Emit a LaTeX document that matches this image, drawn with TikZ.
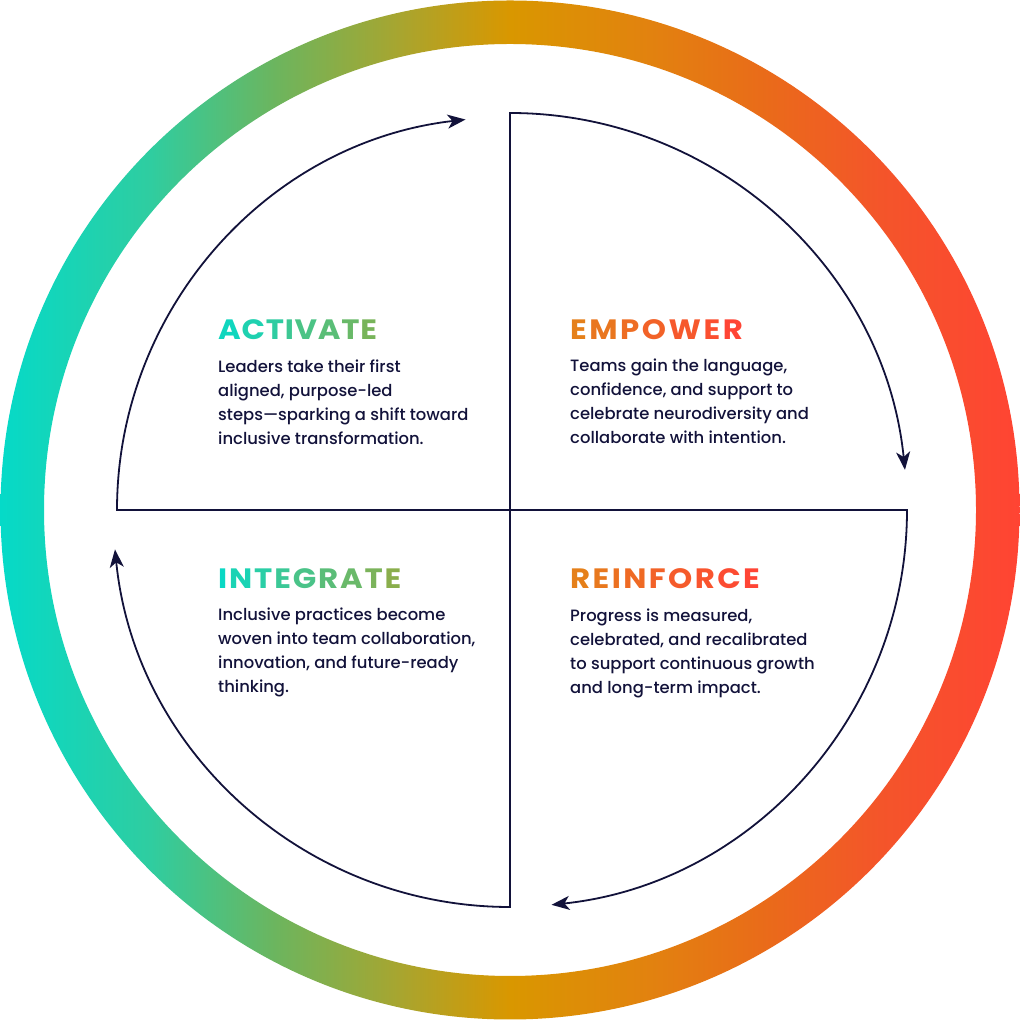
\documentclass[tikz,border=0pt]{standalone}
\usepackage{fontspec}
\usepackage{graphicx}
\setmainfont{Poppins}
\newfontfamily\bodyfont{Poppins Medium}
\usetikzlibrary{arrows.meta}
\definecolor{navy}{HTML}{12123A}
\definecolor{c0}{HTML}{05DAC8}
\definecolor{c1}{HTML}{2FCDA0}
\definecolor{c2}{HTML}{6CB55E}
\definecolor{c3}{HTML}{A8A52F}
\definecolor{c4}{HTML}{D99700}
\definecolor{c5}{HTML}{E2820F}
\definecolor{c6}{HTML}{E96C19}
\definecolor{c7}{HTML}{F4552A}
\definecolor{c8}{HTML}{FF4433}
\definecolor{actL}{HTML}{10D6BE}
\definecolor{actR}{HTML}{78B45A}
\definecolor{intL}{HTML}{0AD8C4}
\definecolor{intR}{HTML}{8AAE4C}
\definecolor{empL}{HTML}{E5801A}
\definecolor{empR}{HTML}{FF4535}
\pgfdeclarehorizontalshading{ringshade}{100bp}{color(0bp)=(c0); color(25bp)=(c0); color(32.35bp)=(c1); color(38.48bp)=(c2); color(44.6bp)=(c3); color(50bp)=(c4); color(56.86bp)=(c5); color(62.25bp)=(c6); color(68.14bp)=(c7); color(75bp)=(c8); color(100bp)=(c8)}
\newlength\hk
\newcommand\gcl[4]{\textcolor{#1!#3!#2}{#4}\kern\hk}
\newcommand\headtext[2]{\setlength\hk{#1}\scalebox{1.1}[1]{#2}}
\tikzset{
  flow/.style={draw=navy, line width=1.8pt, line join=miter, -{Stealth[length=18pt,width=14pt,inset=5pt]}},
  head/.style={anchor=base west, inner sep=0pt, font=\bfseries\fontsize{28}{30}\selectfont},
  body/.style={anchor=base west, inner sep=0pt, text=navy, font=\bodyfont\fontsize{16.4}{23.8}\selectfont},
}
\begin{document}
\begin{tikzpicture}[x=1pt,y=1pt]
\useasboundingbox (0,0) rectangle (1020,1020);
\coordinate (c) at (510,510);
\shade[shading=ringshade, even odd rule] (c) circle[radius=509.5] (c) circle[radius=466];
% quadrants
\coordinate (l) at (117,510);
\coordinate (t) at (510,907);
\coordinate (r) at (907,510);
\coordinate (b) at (510,113);
\draw[flow] (c) -- (l) arc[start angle=180, end angle=96.5, radius=393];
\draw[flow] (c) -- (t) arc[start angle=90, end angle=5.8, radius=397];
\draw[flow] (c) -- (r) arc[start angle=0, end angle=-84, radius=397];
\draw[flow] (c) -- (b) arc[start angle=-90, end angle=-174.3, radius=397];
% headings
\node[head] (hA) at (218,680) {\headtext{0.7pt}{\gcl{actL}{actR}{100}{A}\gcl{actL}{actR}{86}{C}\gcl{actL}{actR}{71}{T}\gcl{actL}{actR}{57}{I}\gcl{actL}{actR}{43}{V}\gcl{actL}{actR}{29}{A}\gcl{actL}{actR}{14}{T}\gcl{actL}{actR}{0}{E}}};
\node[head] (hE) at (570,680) {\headtext{2.3pt}{\gcl{empL}{empR}{100}{E}\gcl{empL}{empR}{83}{M}\gcl{empL}{empR}{67}{P}\gcl{empL}{empR}{50}{O}\gcl{empL}{empR}{33}{W}\gcl{empL}{empR}{17}{E}\gcl{empL}{empR}{0}{R}}};
\node[head] (hI) at (218,431) {\headtext{1.7pt}{\gcl{intL}{intR}{100}{I}\gcl{intL}{intR}{87}{N}\gcl{intL}{intR}{75}{T}\gcl{intL}{intR}{62}{E}\gcl{intL}{intR}{50}{G}\gcl{intL}{intR}{37}{R}\gcl{intL}{intR}{25}{A}\gcl{intL}{intR}{12}{T}\gcl{intL}{intR}{0}{E}}};
\node[head] (hR) at (570,431) {\headtext{2.2pt}{\gcl{empL}{empR}{100}{R}\gcl{empL}{empR}{87}{E}\gcl{empL}{empR}{75}{I}\gcl{empL}{empR}{62}{N}\gcl{empL}{empR}{50}{F}\gcl{empL}{empR}{37}{O}\gcl{empL}{empR}{25}{R}\gcl{empL}{empR}{12}{C}\gcl{empL}{empR}{0}{E}}};
% bodies
\node[body] (bA) at (218,647) {\parbox[t]{320pt}{\raggedright Leaders take their first\\aligned, purpose-led\\steps—sparking a shift toward\\inclusive transformation.}};
\node[body] (bE) at (570,648) {\parbox[t]{320pt}{\raggedright Teams gain the language,\\confidence, and support to\\celebrate neurodiversity and\\collaborate with intention.}};
\node[body] (bI) at (218,399) {\parbox[t]{320pt}{\raggedright Inclusive practices become\\woven into team collaboration,\\innovation, and future-ready\\thinking.}};
\node[body] (bR) at (570,398) {\parbox[t]{320pt}{\raggedright Progress is measured,\\celebrated, and recalibrated\\to support continuous growth\\and long-term impact.}};
\end{tikzpicture}
\end{document}
